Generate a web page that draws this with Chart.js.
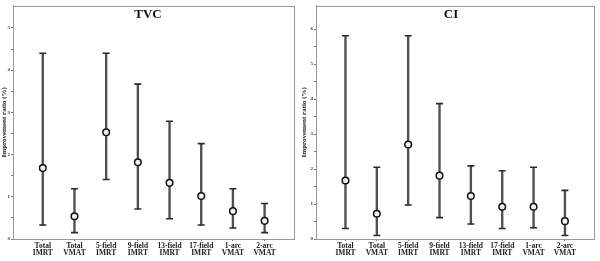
<!DOCTYPE html>
<html>
<head>
<meta charset="utf-8">
<script src="https://cdn.jsdelivr.net/npm/chart.js@4/dist/chart.umd.min.js"></script>
<style>
  html, body { margin: 0; padding: 0; background: #fff; }
  body { width: 600px; height: 261px; position: relative; overflow: hidden; }
  .panel { position: absolute; top: 0; width: 300px; height: 261px; }
  .ttl { position: absolute; top: 6px; font: bold 13px "Liberation Serif", serif; color: #111; transform: translateX(-50%); white-space: nowrap; }
</style>
</head>
<body>
<div class="panel" style="left:0"><canvas id="c1" width="300" height="261"></canvas></div>
<div class="panel" style="left:300px"><canvas id="c2" width="300" height="261"></canvas></div>
<div class="ttl" style="left:148px">TVC</div>
<div class="ttl" style="left:451px">CI</div>
<script>
const categories = ['Total IMRT', 'Total VMAT', '5-field IMRT', '9-field IMRT', '13-field IMRT', '17-field IMRT', '1-arc VMAT', '2-arc VMAT'];
const tvcMean  = [1.68, 0.54, 2.53, 1.82, 1.33, 1.02, 0.66, 0.43];
const tvcLower = [0.33, 0.15, 1.41, 0.71, 0.48, 0.33, 0.26, 0.15];
const tvcUpper = [4.40, 1.19, 4.40, 3.67, 2.79, 2.26, 1.19, 0.84];
const ciMean   = [1.67, 0.72, 2.70, 1.81, 1.23, 0.92, 0.92, 0.51];
const ciLower  = [0.30, 0.10, 0.97, 0.61, 0.43, 0.30, 0.32, 0.10];
const ciUpper  = [5.81, 2.05, 5.81, 3.87, 2.09, 1.95, 2.05, 1.39];
const tvcYTicks = [0, 0.5, 1, 1.5, 2, 2.5, 3, 3.5, 4, 4.5, 5];
const ciYTicks  = [0, 0.5, 1, 1.5, 2, 2.5, 3, 3.5, 4, 4.5, 5, 5.5, 6];
const yTitle = 'Improvement ratio (%)';

const frame = {
  id: 'frame',
  afterDraw(chart) {
    const a = chart.chartArea, ctx = chart.ctx;
    ctx.save();
    ctx.strokeStyle = '#9a9a9a';
    ctx.lineWidth = 1;
    ctx.strokeRect(Math.round(a.left) + 0.5, Math.round(a.top) + 0.5, Math.round(a.right - a.left), Math.round(a.bottom - a.top));
    ctx.restore();
  }
};

function makeChart(id, mean, lower, upper, yTicks, yMax, yWidth, padRight) {
  const idx = categories.map((_, i) => i);
  return new Chart(document.getElementById(id), {
    type: 'bar',
    data: {
      datasets: [
        {
          type: 'bar',
          data: idx.map(i => ({ x: i, y: [lower[i], upper[i]] })),
          backgroundColor: '#505050',
          barThickness: 1.7,
          order: 3
        },
        {
          type: 'scatter',
          data: idx.map(i => ({ x: i, y: upper[i] })),
          pointStyle: 'line', pointRadius: 3.5, borderWidth: 1.6,
          borderColor: '#2a2a2a', order: 2
        },
        {
          type: 'scatter',
          data: idx.map(i => ({ x: i, y: lower[i] })),
          pointStyle: 'line', pointRadius: 3.5, borderWidth: 1.6,
          borderColor: '#2a2a2a', order: 2
        },
        {
          type: 'scatter',
          data: idx.map(i => ({ x: i, y: mean[i] })),
          pointStyle: 'circle', pointRadius: 3.3, borderWidth: 1.5,
          borderColor: '#111', backgroundColor: '#f2f2f2', order: 1
        }
      ]
    },
    options: {
      responsive: false,
      animation: false,
      devicePixelRatio: 1,
      layout: { padding: { left: 0, right: padRight, top: 1, bottom: 0 } },
      plugins: { legend: { display: false }, tooltip: { enabled: false }, title: { display: false } },
      scales: {
        x: {
          type: 'linear',
          offset: false,
          min: -0.94, max: categories.length - 1 + 0.94,
          afterBuildTicks: s => { s.ticks = idx.map(v => ({ value: v })); },
          afterFit: s => { s.height = 22; },
          grid: { display: true, offset: false, drawOnChartArea: false, tickLength: 2, color: '#777' },
          border: { display: true, color: '#8a8a8a' },
          ticks: {
            autoSkip: false, maxRotation: 0, padding: 1,
            color: '#222',
            font: { family: 'Liberation Serif', size: 7.5, weight: 'bold', lineHeight: 0.95 },
            callback: v => categories[v] ? categories[v].split(' ') : ''
          }
        },
        y: {
          min: 0, max: yMax,
          afterBuildTicks: s => { s.ticks = yTicks.map(v => ({ value: v })); },
          afterFit: s => { s.width = yWidth; },
          grid: { display: true, drawOnChartArea: false, tickLength: 2, color: '#777' },
          border: { display: true, color: '#8a8a8a' },
          ticks: {
            padding: 1, color: '#333',
            font: { family: 'Liberation Serif', size: 5, weight: 'bold' },
            callback: v => Number.isInteger(v) ? String(v) : ''
          },
          title: {
            display: true, text: yTitle, color: '#222', padding: 0,
            font: { family: 'Liberation Serif', size: 7, weight: 'bold' }
          }
        }
      }
    },
    plugins: [frame]
  });
}

makeChart('c1', tvcMean, tvcLower, tvcUpper, tvcYTicks, 5.53, 13, 3);
makeChart('c2', ciMean, ciLower, ciUpper, ciYTicks, 6.67, 16, 1);
</script>
</body>
</html>
